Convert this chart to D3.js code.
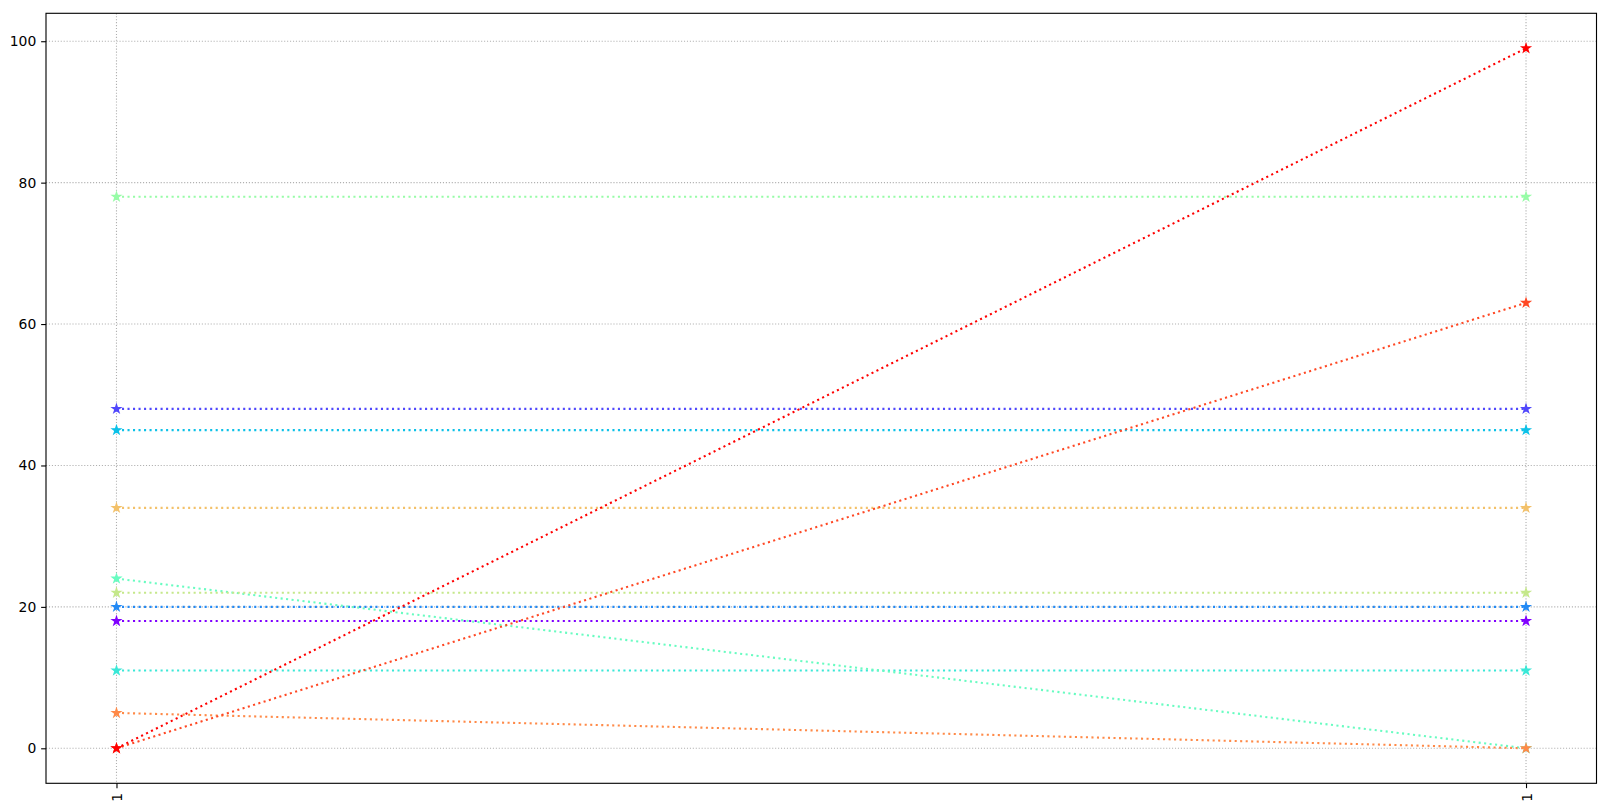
<!DOCTYPE html>
<html><head><meta charset="utf-8">
<script src="https://cdn.jsdelivr.net/npm/d3@7"></script>
<style>body{margin:0;background:#fff}text{font-family:"DejaVu Sans",sans-serif;font-size:13.9px;fill:#000}</style>
</head><body><svg id="c" width="1609" height="812"></svg>
<script>
const categories = ["1", "1"];
const s0 = [18, 18];
const s1 = [48, 48];
const s2 = [20, 20];
const s3 = [45, 45];
const s4 = [11, 11];
const s5 = [24, 0];
const s6 = [78, 78];
const s7 = [22, 22];
const s8 = [34, 34];
const s9 = [5, 0];
const s10 = [0, 63];
const s11 = [0, 99];
const series = [s0, s1, s2, s3, s4, s5, s6, s7, s8, s9, s10, s11];
const yTicks = [0, 20, 40, 60, 80, 100];

const W = 1609, H = 812;
const L = 46, R = 1596.5, T = 13.3, B = 783.3;
const svg = d3.select("#c");
const x = d3.scaleLinear().domain([-0.05, 1.05]).range([L, R]);
const ymax = d3.max(series, s => d3.max(s)), ymin = d3.min(series, s => d3.min(s));
const pad = (ymax - ymin) * 0.05;
const y = d3.scaleLinear().domain([ymin - pad, ymax + pad]).range([B, T]);

function rainbow(t) {
  const r = Math.min(1, Math.abs(2 * t - 0.5));
  const g = Math.sin(Math.PI * t);
  const b = Math.cos(Math.PI * t / 2);
  return d3.rgb(r * 255, g * 255, b * 255).formatHex();
}
const colors = series.map((s, i) => rainbow(i / (series.length - 1)));

// grid
const grid = svg.append("g");
yTicks.forEach(v => grid.append("line").attr("x1", L).attr("x2", R).attr("y1", y(v)).attr("y2", y(v))
  .attr("stroke", "#b0b0b0").attr("stroke-width", 1.11).attr("stroke-dasharray", "1.11,1.83"));
categories.forEach((c, i) => grid.append("line").attr("x1", x(i)).attr("x2", x(i)).attr("y1", T).attr("y2", B)
  .attr("stroke", "#b0b0b0").attr("stroke-width", 1.11).attr("stroke-dasharray", "1.11,1.83"));

// star path
function starPath(r) {
  const inner = r * 0.381966;
  let p = "";
  for (let k = 0; k < 10; k++) {
    const rr = k % 2 === 0 ? r : inner;
    const a = Math.PI / 2 + k * Math.PI / 5;
    const px = rr * Math.cos(a), py = -rr * Math.sin(a);
    p += (k === 0 ? "M" : "L") + px.toFixed(3) + "," + py.toFixed(3);
  }
  return p + "Z";
}
const star = starPath(4.17);

const line = d3.line().x((d, i) => x(i)).y(d => y(d));
series.forEach((s, i) => {
  const g = svg.append("g");
  g.append("path").attr("d", line(s)).attr("fill", "none").attr("stroke", colors[i])
    .attr("stroke-width", 2.08).attr("stroke-dasharray", "2.08,3.43");
  s.forEach((v, j) => g.append("path").attr("d", star).attr("transform", `translate(${x(j)},${y(v)})`)
    .attr("fill", colors[i]).attr("stroke", colors[i]).attr("stroke-width", 1.39).attr("stroke-linejoin", "miter"));
});

// frame
svg.append("rect").attr("x", L).attr("y", T).attr("width", R - L).attr("height", B - T)
  .attr("fill", "none").attr("stroke", "#000").attr("stroke-width", 1.11);

// y axis
const yAxis = svg.append("g").attr("transform", `translate(${L},0)`)
  .call(d3.axisLeft(y).tickValues(yTicks).tickSize(4.86).tickPadding(4.86).tickFormat(d3.format("d")));
yAxis.select(".domain").remove();
yAxis.selectAll("line").attr("stroke-width", 1.11);
yAxis.selectAll("text").attr("font-size", null).attr("font-family", null);

// x axis
const xAxis = svg.append("g").attr("transform", `translate(0,${B})`)
  .call(d3.axisBottom(x).tickValues(categories.map((c, i) => i)).tickSize(4.86).tickFormat(i => categories[i]));
xAxis.select(".domain").remove();
xAxis.selectAll("line").attr("stroke-width", 1.11);
xAxis.selectAll("text").attr("font-size", null).attr("font-family", null)
  .attr("y", 0).attr("dy", null).attr("text-anchor", "end").attr("dominant-baseline", "central")
  .attr("transform", "translate(0,9.7) rotate(-90)");
xAxis.attr("font-size", null).attr("font-family", null);
yAxis.attr("font-size", null).attr("font-family", null);
</script></body></html>
